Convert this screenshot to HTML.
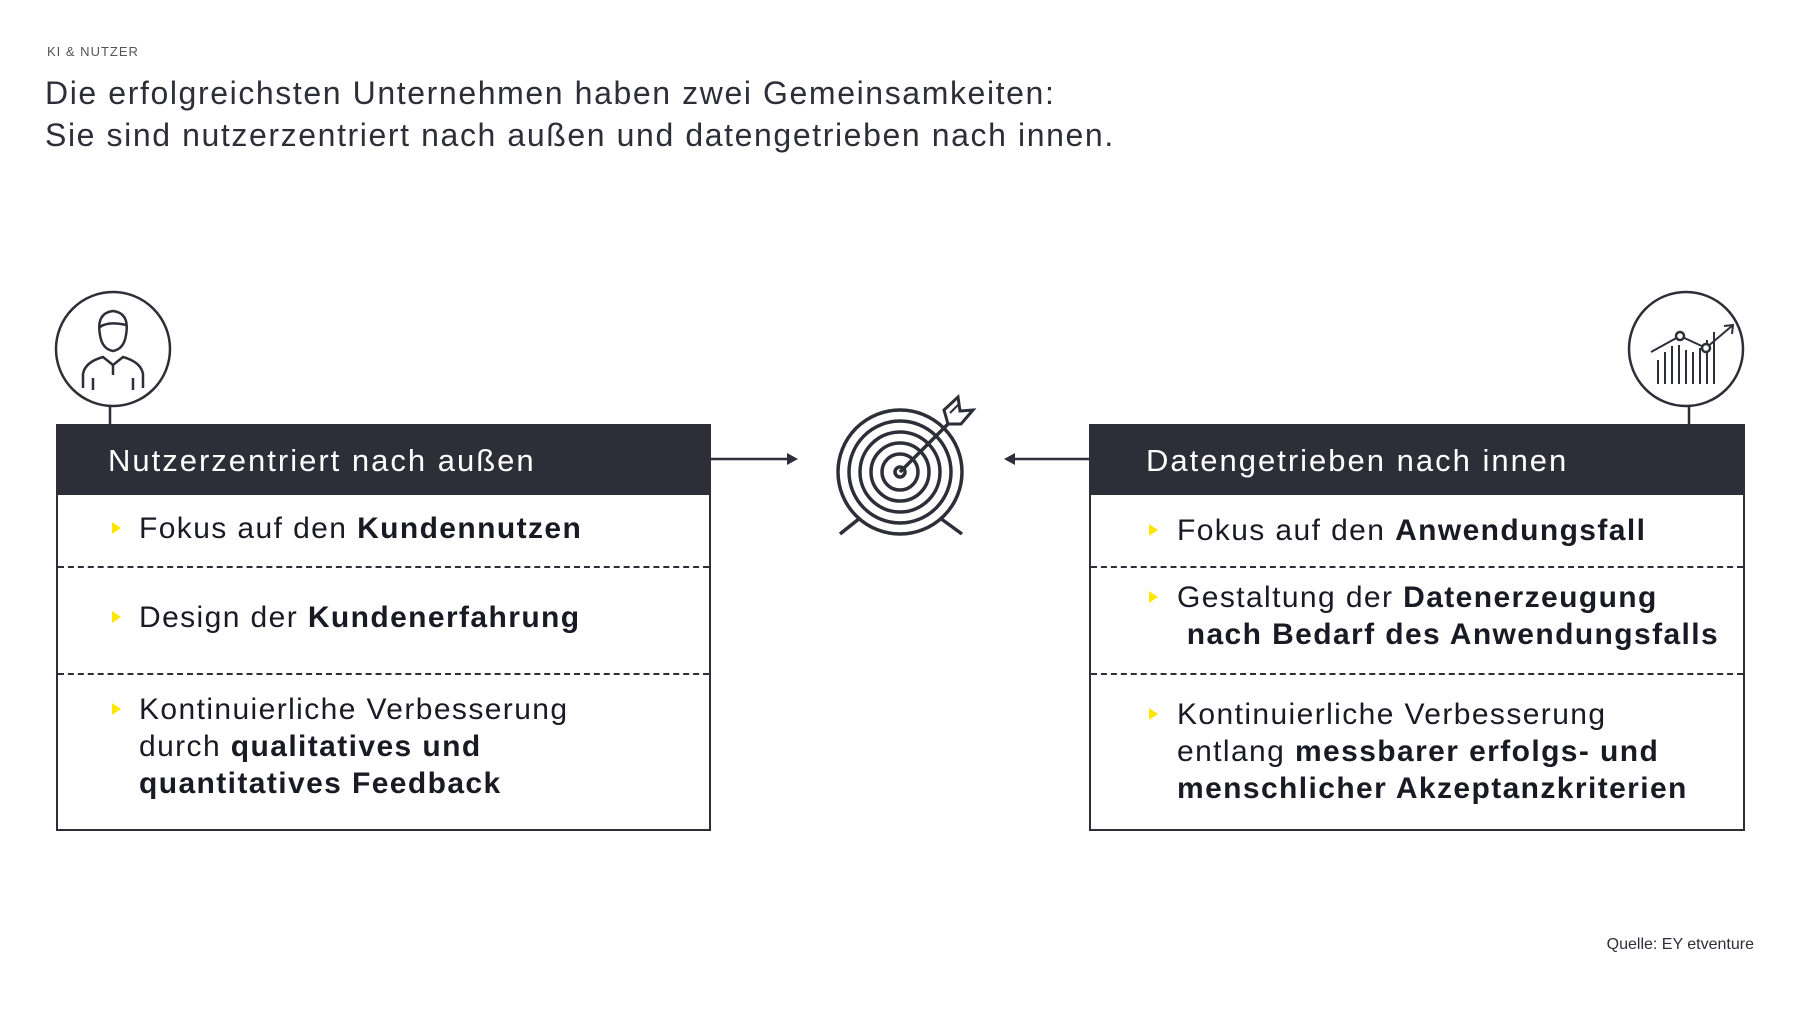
<!DOCTYPE html>
<html><head><meta charset="utf-8"><style>
*{margin:0;padding:0;box-sizing:border-box}
body{width:1800px;height:1015px;background:#fff;position:relative;overflow:hidden;font-family:"Liberation Sans",sans-serif;color:#2e2e38}
.a{position:absolute;white-space:nowrap}
.box{position:absolute;border:2px solid #2e2e38;background:#fff}
.hd{position:absolute;left:0;top:0;right:0;height:69px;background:#2e2e38;color:#fff;font-size:31px;line-height:69px;letter-spacing:2px}
.dash{position:absolute;left:0;right:0;border-top:2px dashed #2e2e38}
.it{position:absolute;font-size:30px;line-height:37px;color:#1a1a24;letter-spacing:1.4px}
.it b{font-weight:bold}
.tri{position:absolute;width:0;height:0;border-left:9px solid #ffe600;border-top:6px solid transparent;border-bottom:6px solid transparent}
</style></head><body>
<div class="a" style="left:47px;top:44px;font-size:13px;letter-spacing:1px;color:#555">KI &amp; NUTZER</div>
<div class="a" style="left:45px;top:72px;font-size:32px;line-height:42px;color:#2e2e38;letter-spacing:1.6px">Die erfolgreichsten Unternehmen haben zwei Gemeinsamkeiten:<br>Sie sind nutzerzentriert nach außen und datengetrieben nach innen.</div>

<svg class="a" style="left:0;top:0" width="1800" height="1015">
<g fill="none" stroke="#2e2e38" stroke-width="2.5">
<circle cx="113" cy="349" r="57"/>
<line x1="110" y1="406" x2="110" y2="424"/>
<circle cx="1686" cy="349" r="57"/>
<line x1="1689" y1="406" x2="1689" y2="424"/>
<path d="M100 335 q-4 -22 13 -24 q17 2 13 24 q-2 14 -13 16 q-11 -2 -13 -16z"/>
<path d="M100 327 q8 -6 26 -2" />
<path d="M83 388 v-14 q2 -12 20 -17 l10 8 l10 -8 q18 5 20 17 v14"/>
<line x1="93" y1="378" x2="93" y2="390"/><line x1="133" y1="378" x2="133" y2="390"/>
<line x1="113" y1="365" x2="113" y2="375"/>
<g stroke-width="2">
<line x1="1658" y1="360" x2="1658" y2="384"/><line x1="1665" y1="352" x2="1665" y2="384"/>
<line x1="1672" y1="346" x2="1672" y2="384"/><line x1="1679" y1="345" x2="1679" y2="384"/>
<line x1="1686" y1="350" x2="1686" y2="384"/><line x1="1693" y1="352" x2="1693" y2="384"/>
<line x1="1700" y1="348" x2="1700" y2="384"/><line x1="1707" y1="340" x2="1707" y2="384"/>
<line x1="1714" y1="332" x2="1714" y2="384"/>
<polyline points="1651,352 1680,336 1706,348 1733,325"/>
<polyline points="1724,326 1733,325 1732,334"/>
</g>
<circle cx="1680" cy="336" r="4" fill="#fff"/><circle cx="1706" cy="348" r="4" fill="#fff"/>
<g stroke-width="3.5">
<circle cx="900" cy="472" r="62"/><circle cx="900" cy="472" r="51"/>
<circle cx="900" cy="472" r="40"/><circle cx="900" cy="472" r="29"/>
<circle cx="900" cy="472" r="18"/>
<circle cx="900" cy="472" r="5"/>
<line x1="860" y1="518" x2="840" y2="534"/><line x1="940" y1="518" x2="962" y2="534"/>
<line x1="900" y1="472" x2="948" y2="424"/>
<path d="M948 424 l-4 -14 l14 -13 l2 14 l13 -1 l-12 14z" stroke-width="3"/>
<line x1="950" y1="413" x2="958" y2="405" stroke-width="2"/>
</g>
<line x1="710" y1="459" x2="790" y2="459" stroke-width="2.5"/>
<line x1="1012" y1="459" x2="1089" y2="459" stroke-width="2.5"/>
</g>
<polygon points="798,459 787,453 787,465" fill="#2e2e38"/>
<polygon points="1004,459 1015,453 1015,465" fill="#2e2e38"/>
</svg>

<div class="box" style="left:56px;top:424px;width:655px;height:407px">
<div class="hd" style="padding-left:50px">Nutzerzentriert nach außen</div>
<div class="dash" style="top:140px"></div>
<div class="dash" style="top:247px"></div>
<div class="tri" style="left:54px;top:96px"></div>
<div class="it" style="left:81px;top:84px">Fokus auf den <b>Kundennutzen</b></div>
<div class="tri" style="left:54px;top:185px"></div>
<div class="it" style="left:81px;top:173px">Design der <b>Kundenerfahrung</b></div>
<div class="tri" style="left:54px;top:277px"></div>
<div class="it" style="left:81px;top:265px">Kontinuierliche Verbesserung<br>durch <b>qualitatives und<br>quantitatives Feedback</b></div>
</div>

<div class="box" style="left:1089px;top:424px;width:656px;height:407px">
<div class="hd" style="padding-left:55px">Datengetrieben nach innen</div>
<div class="dash" style="top:140px"></div>
<div class="dash" style="top:247px"></div>
<div class="tri" style="left:58px;top:98px"></div>
<div class="it" style="left:86px;top:86px">Fokus auf den <b>Anwendungsfall</b></div>
<div class="tri" style="left:58px;top:165px"></div>
<div class="it" style="left:86px;top:153px">Gestaltung der <b>Datenerzeugung<br>&nbsp;nach Bedarf des Anwendungsfalls</b></div>
<div class="tri" style="left:58px;top:282px"></div>
<div class="it" style="left:86px;top:270px">Kontinuierliche Verbesserung<br>entlang <b>messbarer erfolgs- und<br>menschlicher Akzeptanzkriterien</b></div>
</div>

<div class="a" style="right:46px;top:936px;font-size:16px;color:#2e2e38">Quelle: EY etventure</div>
</body></html>
